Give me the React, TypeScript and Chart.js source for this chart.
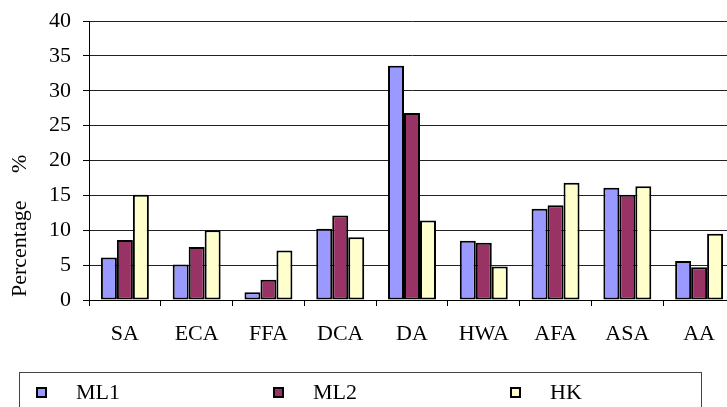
import React, { useEffect, useRef } from "react";
import { Chart, registerables } from "chart.js";

Chart.register(...registerables);

const categories = ["SA", "ECA", "FFA", "DCA", "DA", "HWA", "AFA", "ASA", "AA"];
const ml1Values = [6.1, 5.1, 1.1, 10.2, 33.6, 8.5, 13.1, 16.1, 5.6];
const ml2Values = [8.6, 7.6, 2.9, 12.1, 26.8, 8.2, 13.6, 15.1, 4.7];
const hkValues = [15.1, 10.0, 7.1, 9.0, 11.4, 4.8, 16.8, 16.3, 9.5];
const yTicks = { min: 0, max: 40, step: 5 };
const yTitle = "Percentage";
const yUnit = "%";

const seriesNames = ["ML1", "ML2", "HK"];
const seriesColors = ["#9999FF", "#993366", "#FFFFCC"];

const FONT = "Liberation Serif";

const titlePlugin = {
  id: "yTitlePlugin",
  afterDraw(chart: any) {
    const { ctx, chartArea } = chart;
    ctx.save();
    ctx.translate(20, chartArea.bottom - 3);
    ctx.rotate(-Math.PI / 2);
    ctx.font = `22px "${FONT}"`;
    ctx.fillStyle = "#000";
    ctx.textAlign = "left";
    ctx.textBaseline = "middle";
    ctx.fillText(yTitle, 0, 0);
    ctx.fillText(yUnit, 124, 0);
    ctx.restore();
  },
};

export default function App() {
  const canvasRef = useRef<HTMLCanvasElement>(null);

  useEffect(() => {
    const canvas = canvasRef.current;
    if (!canvas) return;
    const valueSets = [ml1Values, ml2Values, hkValues];
    const chart = new Chart(canvas, {
      type: "bar",
      data: {
        labels: categories,
        datasets: seriesNames.map((name, i) => ({
          label: name,
          data: valueSets[i],
          backgroundColor: seriesColors[i],
          borderColor: "#000",
          borderWidth: 2,
          borderSkipped: false,
          categoryPercentage: 0.668,
          barPercentage: 1,
        })),
      },
      options: {
        responsive: false,
        animation: false,
        devicePixelRatio: 1,
        layout: { padding: { left: 0, right: 5, top: 21, bottom: 0 } },
        plugins: {
          legend: { display: false },
          tooltip: { enabled: false },
          title: { display: false },
        },
        scales: {
          x: {
            offset: true,
            grid: {
              offset: true,
              drawOnChartArea: false,
              drawTicks: true,
              tickLength: 6,
              tickColor: "#000",
              color: "#000",
            },
            border: { display: true, color: "#000", width: 1 },
            ticks: {
              color: "#000",
              font: { family: `"${FONT}"`, size: 22 },
              padding: 15,
              maxRotation: 0,
              autoSkip: false,
            },
            afterFit(scale: any) {
              scale.height = 107;
              scale.paddingLeft = 0;
              scale.paddingRight = 0;
            },
          },
          y: {
            min: yTicks.min,
            max: yTicks.max,
            ticks: {
              stepSize: yTicks.step,
              color: "#000",
              font: { family: `"${FONT}"`, size: 22 },
              padding: 12,
            },
            grid: {
              color: "#222",
              lineWidth: 1,
              tickLength: 6,
              tickColor: "#000",
            },
            border: { display: true, color: "#000", width: 1 },
            afterFit(scale: any) {
              scale.width = 89;
              scale.paddingTop = 0;
              scale.paddingBottom = 0;
            },
          },
        },
      },
      plugins: [titlePlugin],
    });
    return () => chart.destroy();
  }, []);

  return (
    <div
      style={{
        position: "fixed",
        left: 0,
        top: 0,
        width: 727,
        height: 407,
        overflow: "hidden",
        background: "#fff",
      }}
    >
      <canvas
        ref={canvasRef}
        width={740}
        height={407}
        style={{ position: "absolute", left: 0, top: 0, width: 740, height: 407 }}
      />
      <div
        style={{
          position: "absolute",
          left: 19,
          top: 372,
          width: 683,
          height: 60,
          border: "1px solid #444",
          boxSizing: "border-box",
          fontFamily: `"${FONT}"`,
          fontSize: 22,
          color: "#000",
        }}
      >
        {seriesNames.map((name, i) => (
          <div
            key={name}
            style={{
              position: "absolute",
              left: 16 + i * 237,
              top: 6,
              display: "flex",
              alignItems: "center",
              height: 26,
            }}
          >
            <span
              style={{
                display: "inline-block",
                width: 11,
                height: 11,
                background: seriesColors[i],
                border: "2px solid #000",
                boxSizing: "border-box",
              }}
            />
            <span style={{ marginLeft: 29, lineHeight: "26px" }}>{name}</span>
          </div>
        ))}
      </div>
    </div>
  );
}
